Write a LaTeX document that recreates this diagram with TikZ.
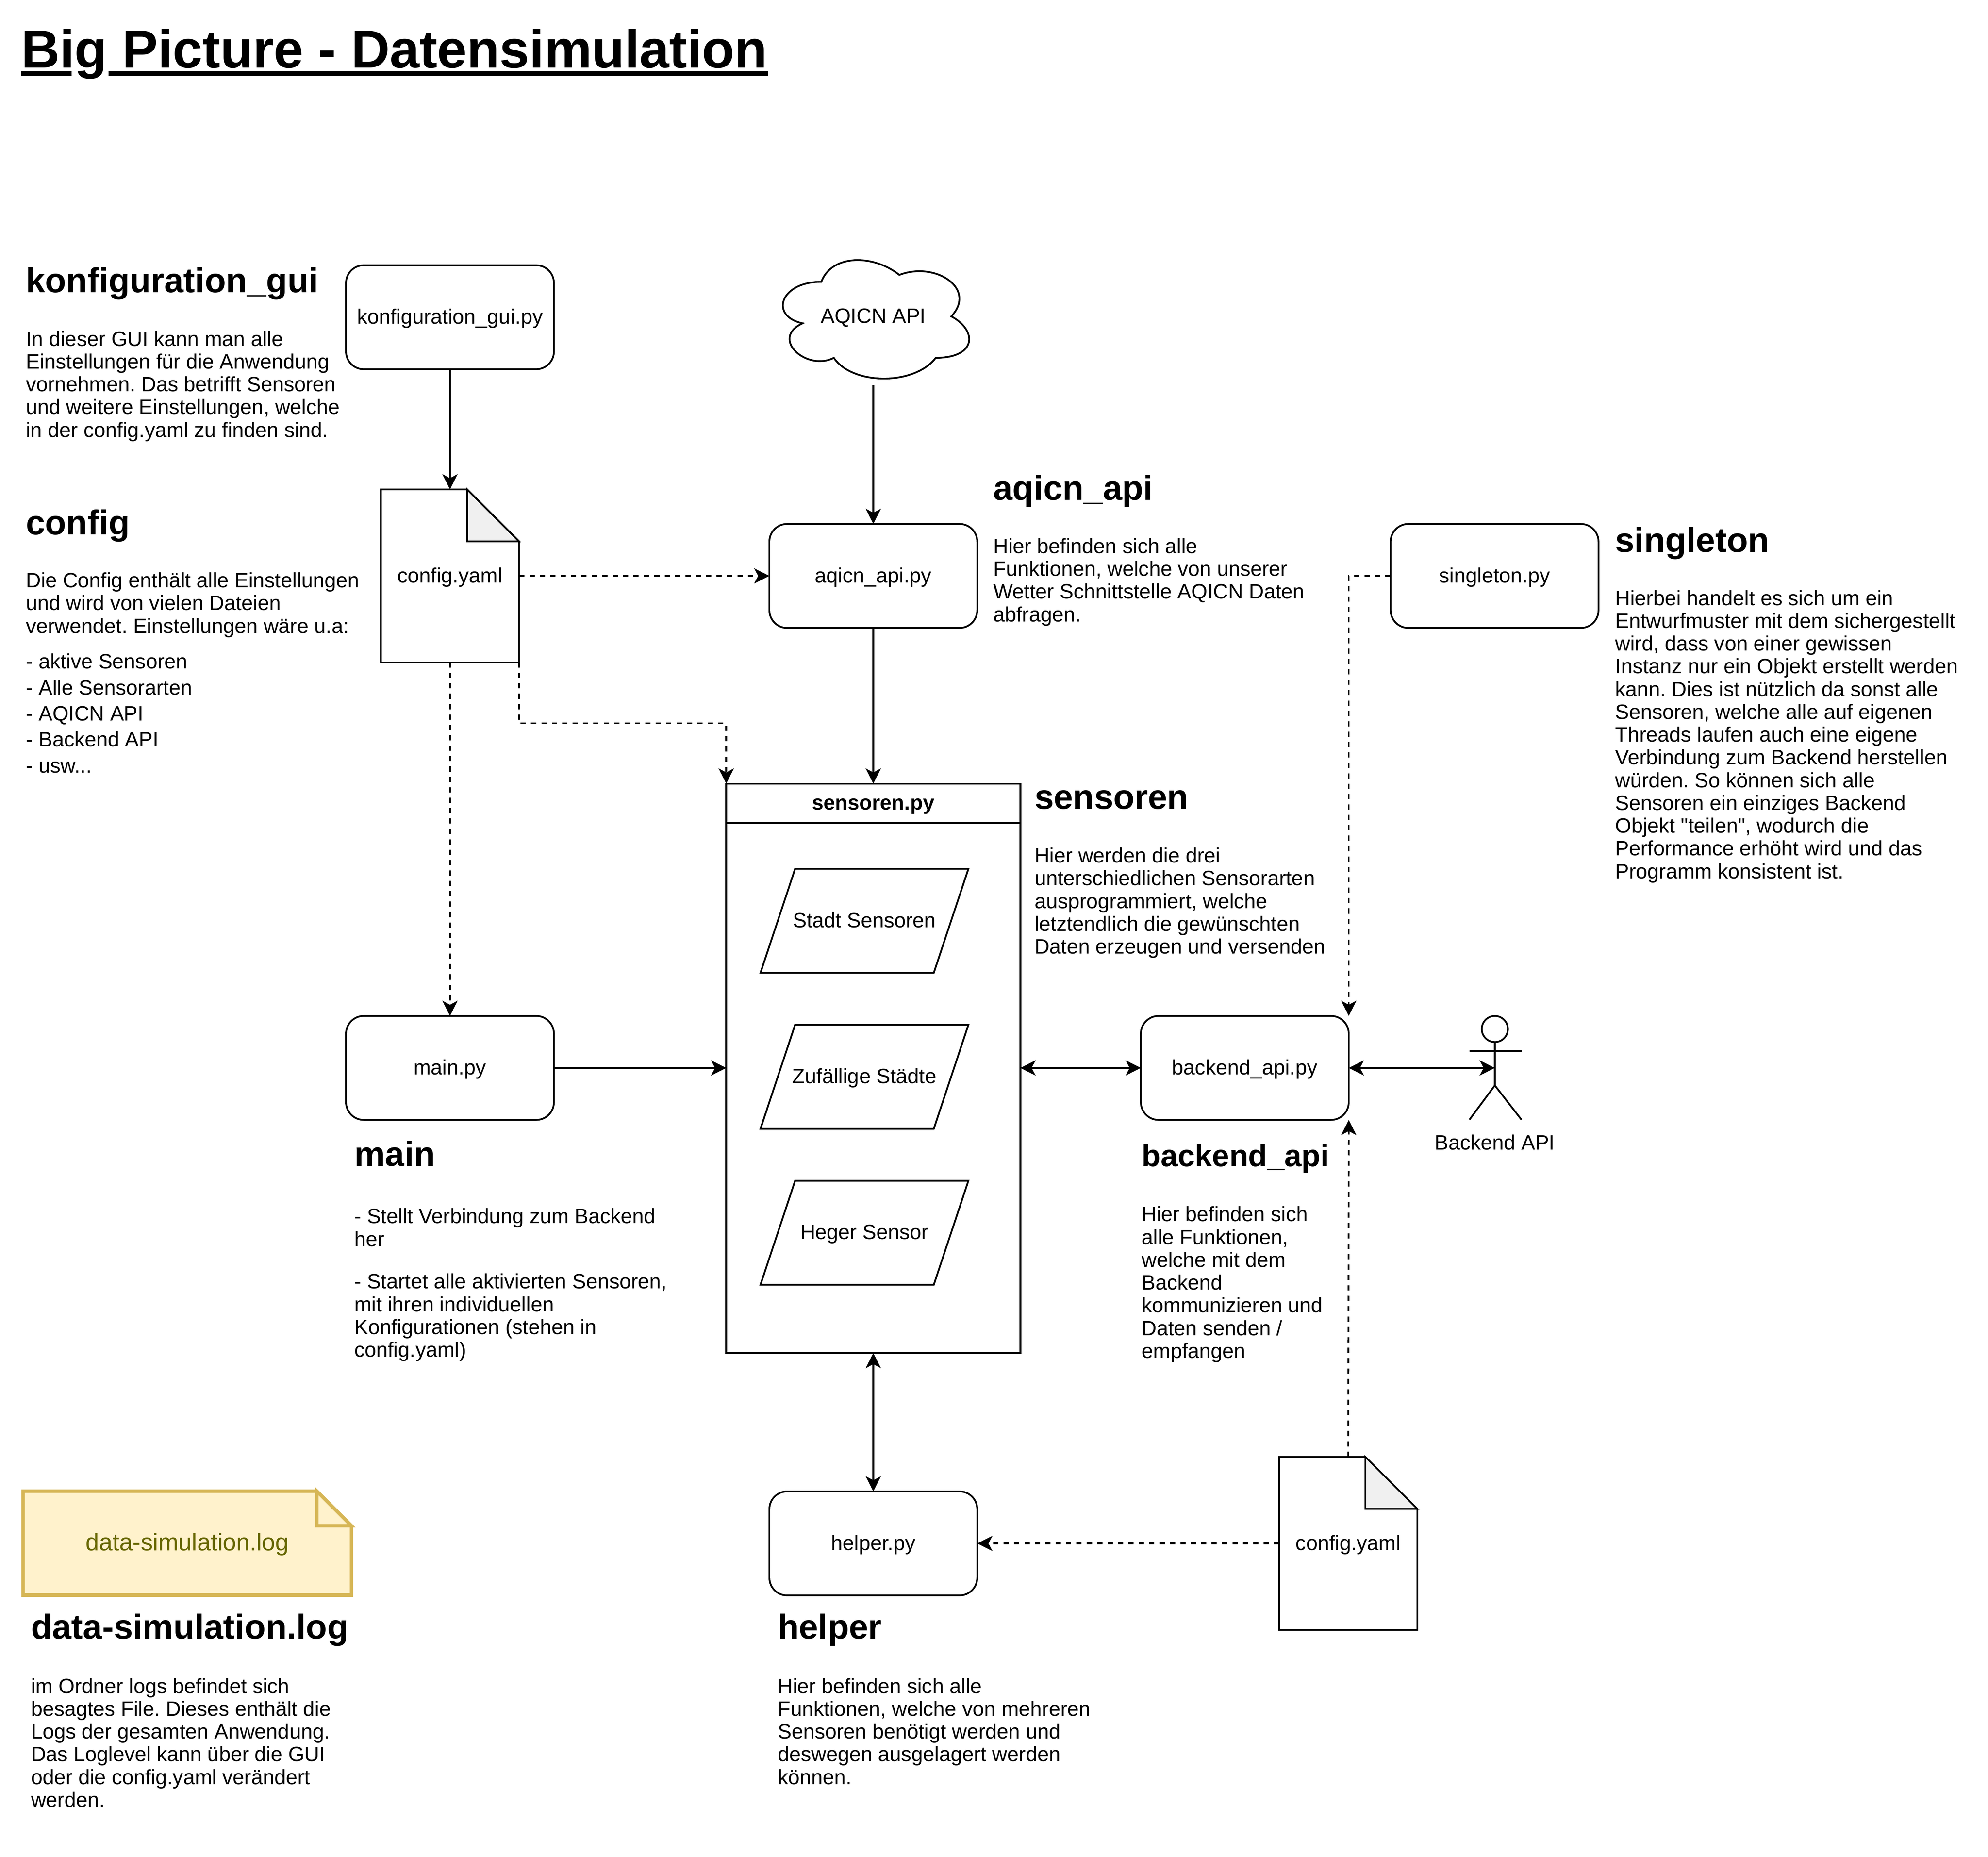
\documentclass[tikz,border=0pt]{standalone}
\usepackage{fontspec}
\setmainfont{Liberation Sans}
\newfontfamily\plainfont{Liberation Sans}
\usepackage{xcolor}
\usepackage{tikz}
\usetikzlibrary{arrows.meta,backgrounds}
\definecolor{foldgray}{HTML}{F0F0F0}
\definecolor{logline}{HTML}{D6B656}
\definecolor{logfill}{HTML}{FFF2CC}
\definecolor{logtext}{HTML}{666600}
\tikzset{
  >={Stealth[length=12pt,width=12pt,inset=3.2pt]},
  every node/.style={outer sep=0pt},
  labeltext/.style={text height=12.5pt,text depth=2pt,font=\fontsize{16.37}{18}\selectfont},
  pybox/.style={draw,rounded corners=14pt,minimum width=164pt,minimum height=82pt,labeltext},
  paperbox/.style={minimum width=109pt,minimum height=136.5pt,labeltext},
  sensorbox/.style={minimum width=164pt,minimum height=82pt,labeltext},
  headtext/.style={anchor=base west,inner sep=0pt,font=\fontsize{27.3}{30}\selectfont\bfseries},
  bodytext/.style={anchor=north west,inner sep=0pt,align=left,font=\fontsize{16.37}{17.95}\selectfont},
  dashline/.style={dash pattern=on 4.1pt off 4.1pt}
}
% paper sheet with a folded corner behind a node
\newcommand{\notepaper}[4][]{
\begin{scope}[on background layer]
\draw[line width=1.37pt,#1] (#2.north west) -- ([xshift=-#3]#2.north east) -- ([yshift=-#3]#2.north east) -- (#2.south east) -- (#2.south west) -- cycle;
\draw[line width=1.37pt,#1,fill=#4] ([xshift=-#3]#2.north east) -- ([xshift=-#3,yshift=-#3]#2.north east) -- ([yshift=-#3]#2.north east) -- cycle;
\end{scope}
}
% slanted outline round a node
\newcommand{\slantbox}[1]{
\draw ([xshift=27.3pt]#1.north west) -- (#1.north east) -- ([xshift=-27.3pt]#1.south east) -- (#1.south west) -- cycle;
}
\begin{document}
\frenchspacing
\begin{tikzpicture}[x=1pt,y=-1pt,line width=1.37pt]
\useasboundingbox (0,0) rectangle (1568,1464.5);

% Title
\node[anchor=base west,inner sep=0pt,font=\fontsize{42.2}{48}\selectfont\bfseries] (title) at (16.7,53.4)
  {\rlap{\rule[-6.6pt]{39.6pt}{4pt}\hspace{29.2pt}\rule[-6.6pt]{520.3pt}{4pt}}Big Picture - Datensimulation};

% Boxes
\node[pybox] (gui) at (354.9,250.2) {konfiguration\_gui.py};
\node[pybox] (aqicnapi) at (688.8,454.2) {aqicn\_api.py};
\node[pybox] (singleton) at (1178.8,454.2) {singleton.py};
\node[pybox] (main) at (354.9,842.2) {main.py};
\node[pybox] (backend) at (981.8,842.2) {backend\_api.py};
\node[pybox] (helper) at (688.8,1217.2) {helper.py};

% Cloud
\node[minimum width=164pt,minimum height=109pt,labeltext] (aqicn) at (688.8,249.5) {AQICN API};
\begin{scope}[shift={(606.8,195)},x=164pt,y=-109pt]
\draw (0.25,0.25) .. controls (0.05,0.25) and (0,0.5) .. (0.16,0.55)
  .. controls (0,0.66) and (0.18,0.9) .. (0.31,0.8)
  .. controls (0.4,1) and (0.7,1) .. (0.8,0.8)
  .. controls (1,0.8) and (1,0.6) .. (0.875,0.5)
  .. controls (1,0.3) and (0.8,0.1) .. (0.625,0.2)
  .. controls (0.5,0.05) and (0.3,0.05) .. (0.25,0.25) -- cycle;
\end{scope}

% Config files
\node[paperbox] (configtop) at (354.9,454.2) {config.yaml};
\notepaper{configtop}{41pt}{foldgray}
\node[paperbox] (configbottom) at (1063.4,1217.2) {config.yaml};
\notepaper{configbottom}{41pt}{foldgray}

% Log file
\node[minimum width=259pt,minimum height=82pt,text=logtext,text height=14pt,text depth=2pt,font=\fontsize{19.1}{21}\selectfont] (logfile) at (147.7,1217) {data-simulation.log};
\notepaper[draw=logline,fill=logfill,line width=2.73pt]{logfile}{27.3pt}{logfill}

% Sensoren
\node[draw,minimum width=232pt,minimum height=449pt] (sensoren) at (688.8,842.5) {};
\node[draw,minimum width=232pt,minimum height=31pt,labeltext,font=\fontsize{16.37}{18}\selectfont\bfseries] (sensorentitle) at (688.8,633.5) {sensoren.py};
\node[sensorbox] (stadt) at (681.8,726.2) {Stadt Sensoren};
\slantbox{stadt}
\node[sensorbox] (zufall) at (681.8,849.2) {Zufällige Städte};
\slantbox{zufall}
\node[sensorbox] (heger) at (681.8,972.2) {Heger Sensor};
\slantbox{heger}

% Actor
\node[minimum width=41pt,minimum height=82pt] (actor) at (1179,842.2) {};
\draw (1179,811.5) ellipse (10.3 and 10.3);
\draw (1179,822) -- (1179,856);
\draw (1159,829) -- (1200,829);
\draw (1159,883) -- (1179,856) -- (1200,883);
\node[labeltext] (actorlabel) at (1179,901.5) {Backend API};

% Connectors
\draw[->] (gui.south) -- (configtop.north);
\draw[->] (aqicn.south) -- (aqicnapi.north);
\draw[->] (aqicnapi.south) -- (sensorentitle.north);
\draw[->] (main.east) -- (sensoren.west |- main.east);
\draw[<->] (sensoren.east |- backend.west) -- (backend.west);
\draw[<->] (backend.east) -- (actor.center);
\draw[<->] (sensoren.south) -- (helper.north);
\draw[->,dashline] (configtop.east) -- (aqicnapi.west);
\draw[->,dashline] (configtop.south) -- (main.north);
\draw[->,dashline] (configtop.south east) -- ++(0,48) -| (sensorentitle.north west);
\draw[->,dashline] (singleton.west) -| (backend.north east);
\draw[->,dashline] (configbottom.north) -- (backend.south east);
\draw[->,dashline] (configbottom.west) -- (helper.east);

% konfiguration_gui
\node[headtext] (guihead) at (20.5,230.5) {konfiguration\_gui};
\node[bodytext] (guitext) at (20.5,261) {In dieser GUI kann man alle\\Einstellungen für die Anwendung\\vornehmen. Das betrifft Sensoren\\und weitere Einstellungen, welche\\in der config.yaml zu finden sind.};

% config
\node[headtext] (confighead) at (20.5,421.5) {config};
\node[bodytext] (configtext) at (20.5,451.5) {Die Config enthält alle Einstellungen\\und wird von vielen Dateien\\verwendet. Einstellungen wäre u.a:};
\node[bodytext,font=\fontsize{16.37}{20.5}\selectfont] (configlist) at (20.5,515.5) {- aktive Sensoren\\- Alle Sensorarten\\- AQICN API\\- Backend API\\- usw...};

% aqicn_api
\node[headtext] (aqicnhead) at (783.5,394.5) {aqicn\_api};
\node[bodytext] (aqicntext) at (783.5,424.5) {Hier befinden sich alle\\Funktionen, welche von unserer\\Wetter Schnittstelle AQICN Daten\\abfragen.};

% singleton
\node[headtext] (singletonhead) at (1274,435.5) {singleton};
\node[bodytext] (singletontext) at (1274,465.5) {Hierbei handelt es sich um ein\\Entwurfmuster mit dem sichergestellt\\wird, dass von einer gewissen\\Instanz nur ein Objekt erstellt werden\\kann. Dies ist nützlich da sonst alle\\Sensoren, welche alle auf eigenen\\Threads laufen auch eine eigene\\Verbindung zum Backend herstellen\\würden. So können sich alle\\Sensoren ein einziges Backend\\Objekt {\plainfont"}teilen{\plainfont"}, wodurch die\\Performance erhöht wird und das\\Programm konsistent ist.};

% sensoren
\node[headtext] (sensorenhead) at (816,638) {sensoren};
\node[bodytext] (sensorentext) at (816,668.5) {Hier werden die drei\\unterschiedlichen Sensorarten\\ausprogrammiert, welche\\letztendlich die gewünschten\\Daten erzeugen und versenden};

% main
\node[headtext] (mainhead) at (279.5,919.5) {main};
\node[bodytext] (maintext) at (279.5,953) {- Stellt Verbindung zum Backend\\her};
\node[bodytext] (maintexttwo) at (279.5,1004.5) {- Startet alle aktivierten Sensoren,\\mit ihren individuellen\\Konfigurationen (stehen in\\config.yaml)};

% backend_api
\node[headtext,font=\fontsize{24.4}{28}\selectfont\bfseries] (backendhead) at (900.5,920) {backend\_api};
\node[bodytext] (backendtext) at (900.5,951.5) {Hier befinden sich\\alle Funktionen,\\welche mit dem\\Backend\\kommunizieren und\\Daten senden /\\empfangen};

% data-simulation.log
\node[headtext] (loghead) at (24.5,1292.5) {data-simulation.log};
\node[bodytext] (logtext) at (24.5,1323.5) {im Ordner logs befindet sich\\besagtes File. Dieses enthält die\\Logs der gesamten Anwendung.\\Das Loglevel kann über die GUI\\oder die config.yaml verändert\\werden.};

% helper
\node[headtext] (helperhead) at (613.5,1292.5) {helper};
\node[bodytext] (helpertext) at (613.5,1323.5) {Hier befinden sich alle\\Funktionen, welche von mehreren\\Sensoren benötigt werden und\\deswegen ausgelagert werden\\können.};
\end{tikzpicture}
\end{document}
